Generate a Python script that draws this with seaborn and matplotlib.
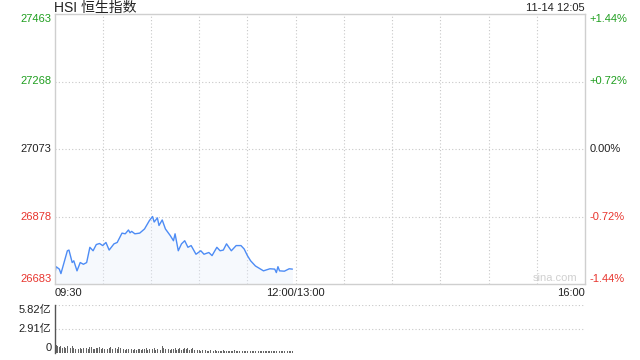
import matplotlib
matplotlib.use("Agg")
import matplotlib.pyplot as plt
import seaborn as sns
import pandas as pd
import numpy as np

sns.set_theme(style="white")
plt.rcParams['font.family'] = ['Liberation Sans', 'Noto Sans CJK SC', 'DejaVu Sans']

# ---- data ----
title = "HSI 恒生指数"
stamp = "11-14 12:05"
prev_close = 27073
price_ticks = [27463, 27268, 27073, 26878, 26683]
pct_labels = ["+1.44%", "+0.72%", "0.00%", "-0.72%", "-1.44%"]
time_labels = ["09:30", "12:00/13:00", "16:00"]
vol_labels = ["5.82亿", "2.91亿", "0"]
vol_ticks = [5.82, 2.91, 0]

price_min = [0, 1, 3, 4, 8, 9, 11, 12, 14, 16, 18, 20, 22, 24, 26, 28, 30, 32, 34, 37,
             39, 42, 44, 46, 47, 48, 50, 53, 56, 59, 61, 62, 64, 65, 67, 69, 72, 74, 75, 77,
             79, 81, 83, 85, 88, 91, 93, 96, 98, 101, 103, 105, 107, 110, 113, 116, 118, 120,
             122, 125, 130, 134, 137, 138, 139, 140, 143, 146, 148]
price_val = [26706, 26733, 26726, 26713, 26779, 26781, 26745, 26750, 26721, 26745, 26740,
             26745, 26789, 26779, 26797, 26800, 26794, 26803, 26781, 26799, 26803, 26830,
             26828, 26839, 26831, 26835, 26828, 26830, 26842, 26866, 26878, 26862, 26874,
             26852, 26868, 26842, 26823, 26808, 26828, 26779, 26799, 26808, 26789, 26794,
             26769, 26779, 26769, 26774, 26765, 26789, 26779, 26781, 26799, 26779, 26794,
             26794, 26784, 26765, 26750, 26735, 26721, 26727, 26726, 26716, 26733, 26721,
             26720, 26727, 26726]

volume = [1.60, 0.95, 0.80, 0.70, 0.85, 0.60, 0.75, 0.55, 0.90, 0.65,
          0.60, 0.80, 0.55, 0.50, 0.70, 0.45, 0.65, 0.50, 0.60, 0.45,
          0.55, 0.50, 0.75, 0.70, 0.50, 0.45, 0.60, 0.55, 0.70, 0.45,
          0.60, 0.50, 0.65, 0.45, 0.55, 0.70, 0.50, 0.45, 0.60, 0.50,
          0.75, 0.55, 0.45, 0.50, 0.40, 0.45, 0.50, 0.40, 0.45, 0.40,
          0.45, 0.40, 0.50, 0.45, 0.40, 0.50, 0.45, 0.55, 0.40, 0.45,
          0.50, 0.45, 0.60, 0.40, 0.45, 0.50, 0.40, 0.85, 0.55, 0.45,
          0.50, 0.45, 0.40, 0.50, 0.45, 0.55, 0.40, 0.45, 0.60, 0.40,
          0.50, 0.55, 0.45, 0.60, 0.40, 0.45, 0.55, 0.40, 0.35, 0.40,
          0.35, 0.30, 0.35, 0.30, 0.35, 0.30, 0.30, 0.35, 0.30, 0.30,
          0.35, 0.30, 0.30, 0.25, 0.30, 0.35, 0.30, 0.25, 0.30, 0.30,
          0.25, 0.30, 0.35, 0.25, 0.30, 0.25, 0.30, 0.25, 0.30, 0.25,
          0.30, 0.25, 0.25, 0.30, 0.25, 0.30, 0.25, 0.20, 0.25, 0.30,
          0.25, 0.20, 0.25, 0.30, 0.25, 0.20, 0.25, 0.20, 0.25, 0.30,
          0.20, 0.25, 0.20, 0.25, 0.20, 0.25, 0.30, 0.20, 0.25, 0.20]

total_minutes = 330
grid_step = 30

GREEN = "#1f9e1f"
RED = "#e8352e"
GRID = "#c8c8c8"
LINE = "#4d8cf5"

price_df = pd.DataFrame({"minute": price_min, "price": price_val})
vol_df = pd.DataFrame({"minute": np.arange(len(volume)), "volume": volume})

W, H = 640, 360
fig = plt.figure(figsize=(6.4, 3.6), dpi=100)
fig.patch.set_facecolor("white")
L, R = 54.5, 585
ax = fig.add_axes([L / W, 1 - 284 / H, (R - L) / W, 270 / H])
axv = fig.add_axes([L / W, 1 - 353 / H, (R - L) / W, 48 / H])

# ---- price panel ----
sns.lineplot(data=price_df, x="minute", y="price", ax=ax, color=LINE, linewidth=1.0)
ax.fill_between(price_df["minute"], price_df["price"], price_ticks[-1],
                color="#e6eefc", alpha=0.35, linewidth=0)
ax.set_xlim(0, total_minutes)
ax.set_ylim(price_ticks[-1], price_ticks[0])
for t in range(grid_step, total_minutes, grid_step):
    ax.axvline(t, color=GRID, lw=0.8, ls=(0, (1, 2)), zorder=0)
for p in price_ticks[1:-1]:
    ax.axhline(p, color=GRID, lw=0.8, ls=(0, (1, 2)), zorder=0)
ax.set_xticks([]); ax.set_yticks([])
ax.set_xlabel(""); ax.set_ylabel("")
for s in ax.spines.values():
    s.set_color("#cfcfcf"); s.set_linewidth(1.0)

fs = 8
for i, (p, lab) in enumerate(zip(price_ticks, pct_labels)):
    col = GREEN if p > prev_close else (RED if p < prev_close else "#222222")
    va = "top" if i == 0 else ("bottom" if i == len(price_ticks) - 1 else "center")
    ax.text(-0.006, p, str(p), transform=ax.get_yaxis_transform(), ha="right", va=va,
            color=col, fontsize=fs)
    ax.text(1.008, p, lab, transform=ax.get_yaxis_transform(), ha="left", va=va,
            color=col, fontsize=fs)

fig.text(L / W, 1 - 8 / H, title, ha="left", va="center", fontsize=10, color="#222222")
fig.text(R / W, 1 - 8 / H, stamp, ha="right", va="center", fontsize=8, color="#222222")
ax.text(0.0, -0.015, time_labels[0], transform=ax.transAxes, ha="left", va="top", fontsize=fs, color="#222222")
ax.text(150 / total_minutes, -0.015, time_labels[1], transform=ax.transAxes, ha="center", va="top", fontsize=fs, color="#222222")
ax.text(1.0, -0.015, time_labels[2], transform=ax.transAxes, ha="right", va="top", fontsize=fs, color="#222222")
ax.text(0.985, 0.005, "sina.com", transform=ax.transAxes, ha="right", va="bottom", fontsize=8, color="#d0d0d0")

# ---- volume panel ----
sns.barplot(data=vol_df, x="minute", y="volume", ax=axv, native_scale=True,
            color="#666666", width=0.55, saturation=1, linewidth=0)
axv.set_xlim(0, total_minutes)
axv.set_ylim(0, vol_ticks[0])
axv.axhline(vol_ticks[0], color=GRID, lw=0.8, ls=(0, (1, 2)), zorder=0)
axv.axhline(vol_ticks[1], color=GRID, lw=0.8, ls=(0, (1, 2)), zorder=0)
axv.set_xticks([]); axv.set_yticks([])
axv.set_xlabel(""); axv.set_ylabel("")
for k, s in axv.spines.items():
    s.set_visible(k == "left")
axv.spines["left"].set_color("#555555")
axv.spines["left"].set_linewidth(1.0)
for i, (v, lab) in enumerate(zip(vol_ticks, vol_labels)):
    va = "top" if i == 0 else ("bottom" if i == len(vol_ticks) - 1 else "center")
    axv.text(-0.006, v, lab, transform=axv.get_yaxis_transform(), ha="right", va=va,
             fontsize=fs, color="#222222")

fig.savefig("out.png", dpi=100, facecolor="white")
